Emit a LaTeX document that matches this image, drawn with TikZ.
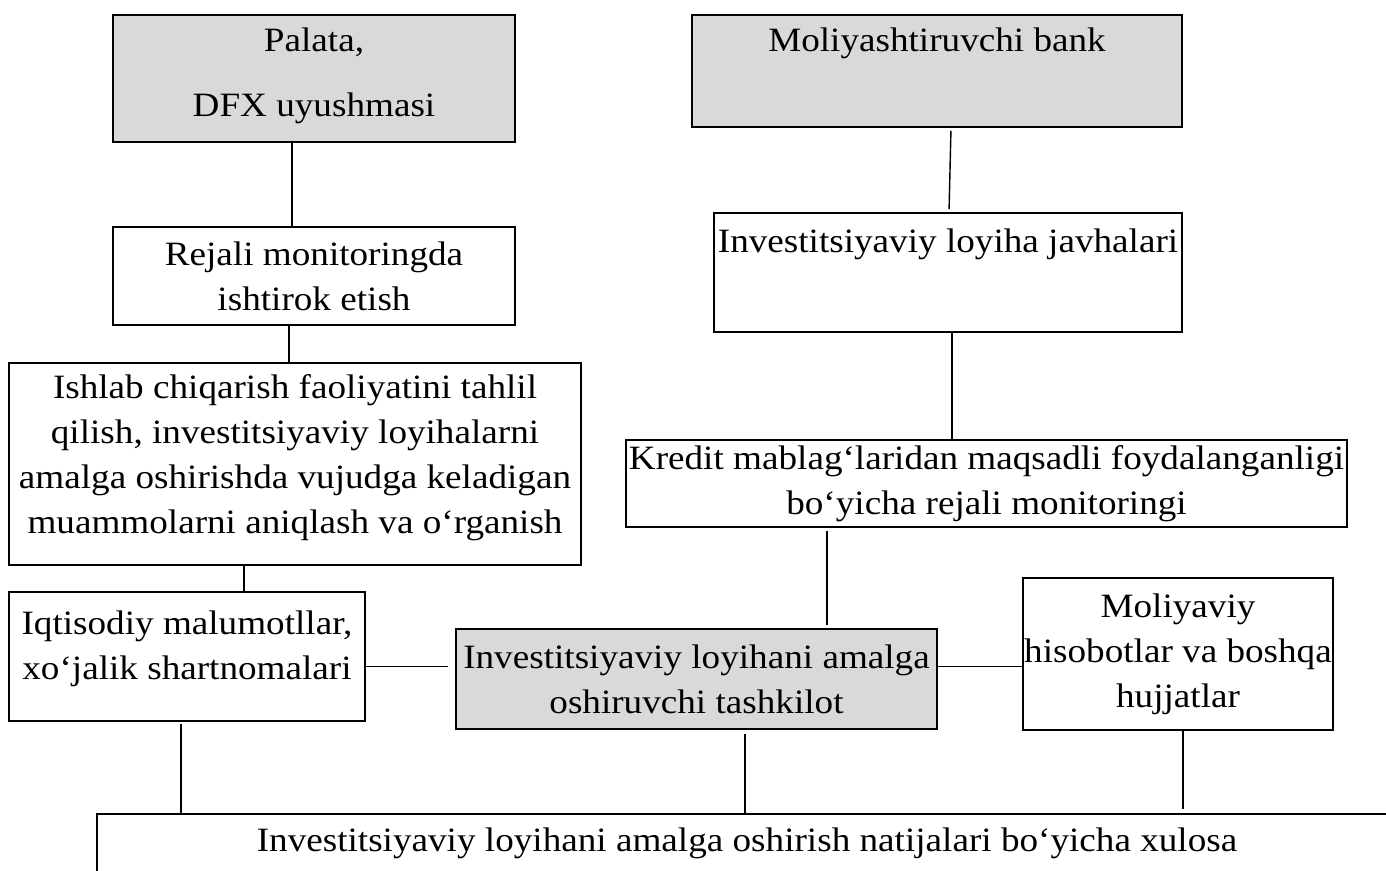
\documentclass[tikz,border=0pt]{standalone}
\usepackage{fontspec}
\setmainfont{Liberation Serif}[FakeStretch=1.09]
\definecolor{OrgGray}{HTML}{D9D9D9}
\tikzstyle{plain_box}=[rectangle,
                       draw=black,
                       line width=1pt,
                       align=center,
                       inner sep=0pt,
                       fill=white,
                       font=\fontsize{19.4}{25.6}\selectfont, ]
\tikzstyle{grey_box}=[plain_box,
                      fill=OrgGray, ]
\tikzstyle{link}=[line width=0.8pt]

\begin{document}
\begin{tikzpicture}
    \useasboundingbox (0cm, 0cm) rectangle (27.72cm, -17.4cm);
    \clip (0cm, 0cm) rectangle (27.72cm, -17.4cm);

    \node at (6.28cm, -1.57cm) (palata) [grey_box, minimum width=8.04cm, minimum height=2.54cm] {Palata,\\[0.4cm] DFX uyushmasi\\[-0.66cm] \mbox{}};
    \node at (6.28cm, -5.52cm) (rejali) [plain_box, minimum width=8.04cm, minimum height=1.96cm] {Rejali monitoringda\\ ishtirok etish};
    \node at (5.90cm, -9.28cm) (ishlab) [plain_box, minimum width=11.44cm, minimum height=4.04cm] {Ishlab chiqarish faoliyatini tahlil\\ qilish, investitsiyaviy loyihalarni\\ amalga oshirishda vujudga keladigan\\ muammolarni aniqlash va o‘rganish\\[-0.5cm] \mbox{}};
    \node at (3.74cm, -13.13cm) (iqtisodiy) [plain_box, minimum width=7.12cm, minimum height=2.58cm] {Iqtisodiy malumotllar,\\ xo‘jalik shartnomalari\\[-0.45cm] \mbox{}};

    \node at (18.74cm, -1.42cm) (bank) [grey_box, minimum width=9.80cm, minimum height=2.24cm] {Moliyashtiruvchi bank\\[0.36cm] \mbox{}};
    \node at (18.96cm, -5.45cm) (javhalari) [plain_box, minimum width=9.36cm, minimum height=2.38cm] {Investitsiyaviy loyiha javhalari\\[0.36cm] \mbox{}};
    \node at (19.73cm, -9.67cm) (kredit) [plain_box, minimum width=14.42cm, minimum height=1.74cm] {Kredit mablag‘laridan maqsadli foydalanganligi\\ bo‘yicha rejali monitoringi};

    \node at (13.93cm, -13.58cm) (tashkilot) [grey_box, minimum width=9.62cm, minimum height=2.00cm] {Investitsiyaviy loyihani amalga\\ oshiruvchi tashkilot};
    \node at (23.56cm, -13.08cm) (moliyaviy) [plain_box, minimum width=6.20cm, minimum height=3.04cm] {Moliyaviy\\ hisobotlar va boshqa\\ hujjatlar};

    \node at (14.94cm, -16.86cm) (xulosa) [plain_box, minimum width=26.00cm, minimum height=1.16cm] {Investitsiyaviy loyihani amalga oshirish natijalari bo‘yicha xulosa};

    \draw[link] ([xshift=-0.44cm]palata.south) -- ([xshift=-0.44cm]palata.south |- rejali.north);
    \draw[link] ([xshift=-0.5cm]rejali.south) -- ([xshift=-0.5cm]rejali.south |- ishlab.north);
    \draw[link] ([xshift=-1.02cm]ishlab.south) -- ([xshift=-1.02cm]ishlab.south |- iqtisodiy.north);
    \draw[link, shorten >=0.14cm] ([yshift=-0.2cm]iqtisodiy.east) -- ([yshift=-0.2cm]iqtisodiy.east -| tashkilot.west);
    \draw[link] ([yshift=0.25cm]tashkilot.east) -- ([yshift=0.25cm]tashkilot.east -| moliyaviy.west);

    \draw[link, shorten <=0.06cm, shorten >=0.06cm] ([xshift=0.28cm]bank.south) -- ([xshift=0.02cm]javhalari.north);
    \draw[link] ([xshift=0.08cm]javhalari.south) -- ([xshift=0.08cm]javhalari.south |- kredit.north);
    \draw[link, shorten <=0.06cm, shorten >=0.06cm] ([xshift=-3.19cm]kredit.south) -- ([xshift=-3.19cm]kredit.south |- tashkilot.north);

    \draw[link, shorten <=0.04cm] ([xshift=-0.12cm]iqtisodiy.south) -- ([xshift=-0.12cm]iqtisodiy.south |- xulosa.north);
    \draw[link, shorten <=0.08cm] ([xshift=0.97cm]tashkilot.south) -- ([xshift=0.97cm]tashkilot.south |- xulosa.north);
    \draw[link, shorten >=0.08cm] ([xshift=0.1cm]moliyaviy.south) -- ([xshift=0.1cm]moliyaviy.south |- xulosa.north);
\end{tikzpicture}
\end{document}
